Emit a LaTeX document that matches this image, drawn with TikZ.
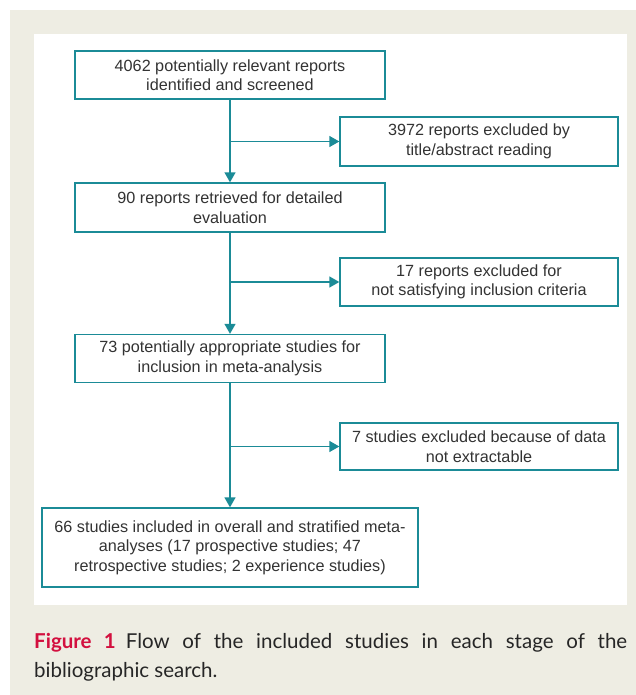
\documentclass[tikz,border=0pt]{standalone}
\usepackage{fontspec}
\setmainfont{Liberation Sans}
\newfontfamily\capfont{Lato}
\usetikzlibrary{arrows.meta,positioning}

\definecolor{panel}{HTML}{EEEDE3}
\definecolor{teal}{HTML}{1B8B97}
\definecolor{boxtext}{HTML}{333333}
\definecolor{figred}{HTML}{D3103F}

\tikzset{
  stagebox/.style={draw=teal, line width=1.4pt, fill=white, text=boxtext,
    align=center, inner sep=0pt, font=\fontsize{16.2}{19.5}\selectfont},
  flow/.style={draw=teal, line width=1.4pt, -{Triangle[length=10pt,width=11pt]}},
}

\begin{document}
\begin{tikzpicture}[x=1pt, y=-1pt]
	\useasboundingbox (0,0) rectangle (636,695);
	\fill[panel] (10,10) rectangle (636,695);
	\fill[white] (34,34) rectangle (627,605);

	% main column
	\node[stagebox, minimum width=310pt, minimum height=48pt] (found) at (230,75)
		{4062 potentially relevant reports\\identified and screened};
	\node[stagebox, minimum width=310pt, minimum height=49pt] (retrieved) at (230,207.5)
		{90 reports retrieved for detailed\\evaluation};
	\node[stagebox, minimum width=310pt, minimum height=48pt] (appropriate) at (230,358.5)
		{73 potentially appropriate studies for\\inclusion in meta-analysis};
	\node[stagebox, minimum width=376pt, minimum height=79pt] (included) at (230,547.5)
		{66 studies included in overall and stratified meta-\\analyses (17 prospective studies; 47\\retrospective studies; 2 experience studies)};

	% exclusions
	\node[stagebox, minimum width=278pt, minimum height=49pt] (excltitle) at (479,141.5)
		{3972 reports excluded by\\title/abstract reading};
	\node[stagebox, minimum width=278pt, minimum height=48pt] (exclcrit) at (479,282)
		{17 reports excluded for\\not satisfying inclusion criteria};
	\node[stagebox, minimum width=278pt, minimum height=47pt] (excldata) at (479,446.5)
		{7 studies excluded because of data\\not extractable};

	\draw[flow] (found) -- (retrieved);
	\draw[flow] (retrieved) -- (appropriate);
	\draw[flow] (appropriate) -- (included);
	\draw[flow] (found |- excltitle) -- (excltitle);
	\draw[flow] (retrieved |- exclcrit) -- (exclcrit);
	\draw[flow] (appropriate |- excldata) -- (excldata);

	% caption
	\node[anchor=north west, inner sep=0pt, text width=593pt, align=justify,
		font=\capfont\fontsize{20.5}{29}\selectfont, text=black!85] (caption) at (34,633)
		{{\bfseries\color{figred}Figure 1}\enspace Flow of the included studies in each stage of the\linebreak bibliographic search.};
\end{tikzpicture}
\end{document}
